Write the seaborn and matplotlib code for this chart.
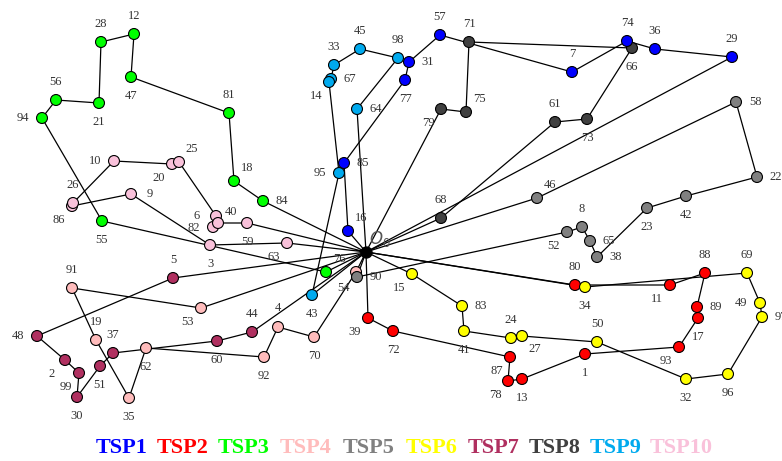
import matplotlib
matplotlib.use("Agg")
import matplotlib.pyplot as plt
import pandas as pd
import seaborn as sns

# 座標は元画像のピクセル位置から読み取った値 (y は下向き)
DEPOT_X, DEPOT_Y = 366, 252

tsp1_nodes = [16, 85, 77, 31, 57, 7, 74, 36, 29]
tsp1_x = [348, 344, 405, 409, 440, 572, 627, 655, 732]
tsp1_y = [231, 163, 80, 62, 35, 72, 41, 49, 57]

tsp2_nodes = [39, 72, 87, 78, 13, 1, 93, 17, 89, 88, 11, 80]
tsp2_x = [368, 393, 510, 508, 522, 585, 679, 698, 697, 705, 670, 575]
tsp2_y = [318, 331, 357, 381, 379, 354, 347, 318, 307, 273, 285, 285]

tsp3_nodes = [84, 18, 81, 47, 12, 28, 21, 56, 94, 55, 76]
tsp3_x = [263, 234, 229, 131, 134, 101, 99, 56, 42, 102, 326]
tsp3_y = [201, 181, 113, 77, 34, 42, 103, 100, 118, 221, 272]

tsp4_nodes = [54, 70, 4, 92, 62, 35, 19, 91, 53]
tsp4_x = [356, 314, 278, 264, 146, 129, 96, 72, 201]
tsp4_y = [272, 337, 327, 357, 348, 398, 340, 288, 308]

tsp5_nodes = [46, 58, 22, 42, 23, 38, 65, 8, 52, 90]
tsp5_x = [537, 736, 757, 686, 647, 597, 590, 582, 567, 357]
tsp5_y = [198, 102, 177, 196, 208, 257, 241, 227, 232, 277]

tsp6_nodes = [15, 83, 41, 24, 27, 50, 32, 96, 97, 49, 69, 34]
tsp6_x = [412, 462, 464, 511, 522, 597, 686, 728, 762, 760, 747, 585]
tsp6_y = [274, 306, 331, 338, 336, 342, 379, 374, 317, 303, 273, 287]

tsp7_nodes = [5, 48, 2, 99, 30, 51, 37, 60, 44]
tsp7_x = [173, 37, 65, 79, 77, 100, 113, 217, 252]
tsp7_y = [278, 336, 360, 373, 397, 366, 353, 341, 332]

tsp8_nodes = [68, 61, 73, 66, 71, 75, 79]
tsp8_x = [441, 555, 587, 632, 469, 466, 441]
tsp8_y = [218, 122, 119, 48, 42, 112, 109]

tsp9_nodes = [64, 98, 45, 33, 67, 14, 95, 43]
tsp9_x = [357, 398, 360, 334, 331, 329, 339, 312]
tsp9_y = [109, 58, 49, 65, 79, 82, 173, 295]

tsp10_nodes = [63, 3, 9, 86, 26, 10, 20, 25, 6, 82, 40, 59]
tsp10_x = [287, 210, 131, 72, 73, 114, 172, 179, 216, 213, 218, 247]
tsp10_y = [243, 245, 194, 206, 203, 161, 164, 162, 216, 227, 223, 223]

route_names = ["TSP1", "TSP2", "TSP3", "TSP4", "TSP5",
               "TSP6", "TSP7", "TSP8", "TSP9", "TSP10"]
route_colors = ["#0000ff", "#ff0000", "#00ff00", "#ffbcbc", "#808080",
                "#ffff00", "#b03060", "#404040", "#00aaee", "#f9c1da"]

routes = [
    (tsp1_nodes, tsp1_x, tsp1_y), (tsp2_nodes, tsp2_x, tsp2_y),
    (tsp3_nodes, tsp3_x, tsp3_y), (tsp4_nodes, tsp4_x, tsp4_y),
    (tsp5_nodes, tsp5_x, tsp5_y), (tsp6_nodes, tsp6_x, tsp6_y),
    (tsp7_nodes, tsp7_x, tsp7_y), (tsp8_nodes, tsp8_x, tsp8_y),
    (tsp9_nodes, tsp9_x, tsp9_y), (tsp10_nodes, tsp10_x, tsp10_y),
]

# 点を描く順番 (重なり方を元画像に合わせる)
DRAW_ORDER = [7, 8, 0, 1, 2, 3, 4, 5, 6, 9]

# ラベルの位置 (ノードからのずれ, ピクセル)
U, D, L, R = (0, -18), (0, 19), (-19, 0), (19, 0)
UR, DL, DR = (13, -13), (-13, 14), (13, 13)
LABEL_OFFSETS = {
    16: UR, 85: R, 77: D, 31: R, 57: U, 7: U, 74: U, 36: U, 29: U,
    39: DL, 72: D, 87: DL, 78: DL, 13: D, 1: D, 93: DL, 17: D, 89: R,
    88: U, 11: DL, 80: U,
    84: R, 18: UR, 81: U, 47: D, 12: U, 28: U, 21: D, 56: U, 94: L,
    55: D, 76: UR,
    54: (-13, 16), 70: D, 4: (0, -19), 92: D, 62: D, 35: D, 19: U,
    91: U, 53: DL,
    46: UR, 58: R, 22: R, 42: D, 23: D, 38: R, 65: R, 8: U, 52: DL,
    90: R,
    15: DL, 83: R, 41: D, 24: U, 27: DR, 50: U, 32: D, 96: D, 97: R,
    49: L, 69: U, 34: D,
    5: U, 48: L, 2: DL, 99: DL, 30: D, 51: D, 37: U, 60: D, 44: U,
    68: U, 61: U, 73: D, 66: D, 71: U, 75: UR, 79: DL,
    64: R, 98: U, 45: U, 33: U, 67: R, 14: DL, 95: L, 43: D,
    63: DL, 3: D, 9: R, 86: DL, 26: U, 10: L, 20: DL, 25: UR,
    6: L, 82: (-19, 1), 40: (13, -11), 59: D,
}

sns.set_style("white")
plt.rcParams["font.family"] = ["Liberation Serif", "DejaVu Serif"]

fig = plt.figure(figsize=(7.82, 4.61), dpi=100)
ax = fig.add_axes([0, 0, 1, 1])

# 経路 (デポから出てデポへ戻る)
for nodes, xs, ys in routes:
    ax.plot([DEPOT_X] + xs + [DEPOT_X], [DEPOT_Y] + ys + [DEPOT_Y],
            color="black", linewidth=0.9, zorder=1)

rows = []
for i in DRAW_ORDER:
    nodes, xs, ys = routes[i]
    for n, x, y in zip(nodes, xs, ys):
        rows.append({"node": n, "x": x, "y": y, "route": route_names[i]})
df = pd.DataFrame(rows)

sns.scatterplot(data=df, x="x", y="y", hue="route",
                palette=dict(zip(route_names, route_colors)),
                s=62, edgecolor="black", linewidth=0.8,
                legend=False, ax=ax, zorder=3)
ax.scatter([DEPOT_X], [DEPOT_Y], s=62, color="black", zorder=4)

for _, r in df.iterrows():
    dx, dy = LABEL_OFFSETS.get(r["node"], (0, -18))
    ax.text(r["x"] + dx, r["y"] + dy, str(r["node"]), fontsize=9,
            color="#333333", ha="center", va="center", zorder=5)
ax.text(DEPOT_X + 14, DEPOT_Y - 13, r"$O_0$", fontsize=12,
        color="#555555", ha="center", va="center", zorder=5)

# 凡例 (色付きテキスト)
legend_x = [122, 183, 244, 306, 369, 432, 494, 555, 616, 681]
for lx, name, c in zip(legend_x, route_names, route_colors):
    ax.text(lx, 448, name, fontsize=16, fontweight="bold", color=c,
            ha="center", va="center")

ax.set_xlim(0, 782)
ax.set_ylim(461, 0)
ax.axis("off")

fig.savefig("out.png", dpi=100)
